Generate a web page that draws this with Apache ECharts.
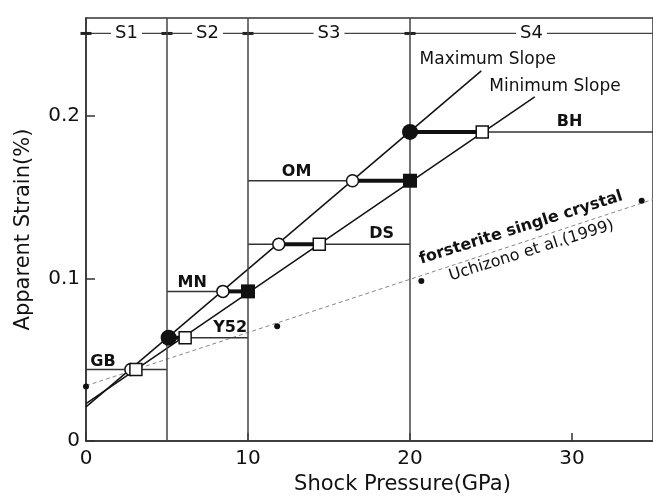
<!DOCTYPE html>
<html>
<head>
<meta charset="utf-8">
<script src="https://cdn.jsdelivr.net/npm/echarts@6/dist/echarts.min.js"></script>
<style>
html,body{margin:0;padding:0;background:#fff;}
#chart{width:653px;height:500px;}
</style>
</head>
<body>
<div id="chart"></div>
<script>
// ---- data (GPa, %) ----
const samples = ['GB', 'Y52', 'MN', 'DS', 'OM', 'BH'];
const sampleStrain = [0.044, 0.0635, 0.092, 0.121, 0.160, 0.190];
const rangeStart = [0, 5, 5, 10, 10, 20];
const rangeEnd = [5, 10, 10, 20, 20, 35];
const maxSlopeP = [2.77, 5.1, 8.45, 11.9, 16.45, 20];   // circles
const minSlopeP = [3.08, 6.12, 10, 14.4, 20, 24.46];    // squares
const circleFilled = [false, true, false, false, false, true];
const squareFilled = [false, false, true, false, true, false];
const labelP = [1.05, 8.9, 6.55, 18.25, 13.0, 29.85];
const labelStrain = [0.049, 0.0695, 0.097, 0.1275, 0.1655, 0.196];

const maxSlopeLine = [[0, 0.021], [24.4, 0.2275]];
const minSlopeLine = [[0, 0.023], [27.7, 0.2115]];
const uchizonoLine = [[0, 0.034], [35, 0.1485]];
const uchizonoPts = [[0, 0.0335], [11.8, 0.0706], [20.7, 0.0984], [34.3, 0.1477]];

const stages = ['S1', 'S2', 'S3', 'S4'];
const stageMid = [2.5, 7.5, 15, 27.5];
const stageBounds = [0, 5, 10, 20];
const stageRowStrain = 0.2505;
const xTicks = [0, 10, 20, 30];
const yTicks = ['0', '0.1', '0.2'];

const annotations = [
  {text: 'Maximum Slope', p: 24.8, s: 0.2343},
  {text: 'Minimum Slope', p: 28.95, s: 0.218}
];
const rotatedNotes = [
  {text: 'forsterite single crystal', p: 26.85, s: 0.131, bold: true},
  {text: 'Uchizono et al.(1999)', p: 27.5, s: 0.117, bold: false}
];

// ---- build ----
const FONT = 'DejaVu Sans';
const INK = '#111';
const series = [];

// stage row line with boundary verticals
series.push({
  type: 'line', silent: true, symbol: 'none', z: 2,
  data: [[0, stageRowStrain], [35, stageRowStrain]],
  lineStyle: {color: '#444', width: 1.2},
  markLine: {
    silent: true, symbol: 'none', label: {show: false},
    lineStyle: {color: '#444', width: 1.5, type: 'solid', opacity: 1},
    data: stageBounds.filter(v => v > 0).map(v => ({xAxis: v}))
  }
});
series.push({
  type: 'scatter', silent: true, z: 3, symbol: 'rect', symbolSize: [11, 3],
  itemStyle: {color: '#222', opacity: 1},
  data: stageBounds.map(v => [v, stageRowStrain])
});
series.push({
  type: 'scatter', silent: true, z: 4, symbolSize: 0,
  itemStyle: {opacity: 1},
  data: stages.map((s, i) => ({name: s, value: [stageMid[i], stageRowStrain]})),
  label: {show: true, position: 'inside', formatter: p => p.name,
    fontFamily: FONT, fontSize: 18, color: INK,
    backgroundColor: '#fff', padding: [0, 4]}
});

// slope lines
series.push({type: 'line', silent: true, symbol: 'none', z: 3, data: maxSlopeLine,
  lineStyle: {color: INK, width: 1.5}});
series.push({type: 'line', silent: true, symbol: 'none', z: 3, data: minSlopeLine,
  lineStyle: {color: INK, width: 1.5}});
// Uchizono line
series.push({type: 'line', silent: true, symbol: 'none', z: 2, data: uchizonoLine,
  lineStyle: {color: '#888', width: 1, type: [4, 3]}});
series.push({type: 'scatter', silent: true, z: 5, symbolSize: 6,
  itemStyle: {color: INK, opacity: 1}, data: uchizonoPts});

// sample ranges
samples.forEach((s, i) => {
  series.push({type: 'line', silent: true, symbol: 'none', z: 3,
    data: [[rangeStart[i], sampleStrain[i]], [rangeEnd[i], sampleStrain[i]]],
    lineStyle: {color: '#333', width: 1.5}});
  series.push({type: 'line', silent: true, symbol: 'none', z: 4,
    data: [[maxSlopeP[i], sampleStrain[i]], [minSlopeP[i], sampleStrain[i]]],
    lineStyle: {color: INK, width: 4}});
});

// symbols
series.push({type: 'scatter', silent: true, z: 6, symbol: 'circle', symbolSize: 12,
  itemStyle: {color: '#fff', borderColor: INK, borderWidth: 1.5, opacity: 1},
  data: maxSlopeP.map((p, i) => [p, sampleStrain[i]]).filter((d, i) => !circleFilled[i])});
series.push({type: 'scatter', silent: true, z: 6, symbol: 'circle', symbolSize: 16,
  itemStyle: {color: INK, opacity: 1},
  data: maxSlopeP.map((p, i) => [p, sampleStrain[i]]).filter((d, i) => circleFilled[i])});
series.push({type: 'scatter', silent: true, z: 6, symbol: 'rect', symbolSize: 12,
  itemStyle: {color: '#fff', borderColor: INK, borderWidth: 1.5, opacity: 1},
  data: minSlopeP.map((p, i) => [p, sampleStrain[i]]).filter((d, i) => !squareFilled[i])});
series.push({type: 'scatter', silent: true, z: 6, symbol: 'rect', symbolSize: 14,
  itemStyle: {color: INK, opacity: 1},
  data: minSlopeP.map((p, i) => [p, sampleStrain[i]]).filter((d, i) => squareFilled[i])});

// sample labels
series.push({type: 'scatter', silent: true, z: 7, symbolSize: 0, itemStyle: {opacity: 1},
  data: samples.map((s, i) => ({name: s, value: [labelP[i], labelStrain[i]]})),
  label: {show: true, position: 'inside', formatter: p => p.name,
    fontFamily: FONT, fontSize: 16, fontWeight: 'bold', color: INK}});

// slope annotations
series.push({type: 'scatter', silent: true, z: 7, symbolSize: 0, itemStyle: {opacity: 1},
  data: annotations.map(a => ({name: a.text, value: [a.p, a.s]})),
  label: {show: true, position: 'inside', formatter: p => p.name,
    fontFamily: FONT, fontSize: 17, color: INK}});
rotatedNotes.forEach(n => {
  series.push({type: 'scatter', silent: true, z: 7, symbolSize: 0, itemStyle: {opacity: 1},
    data: [{name: n.text, value: [n.p, n.s]}],
    label: {show: true, position: 'inside', formatter: p => p.name, rotate: 17.5,
      fontFamily: FONT, fontSize: 16, fontWeight: n.bold ? 'bold' : 'normal',
      color: INK}});
});

const chart = echarts.init(document.getElementById('chart'), null, {renderer: 'canvas'});
chart.setOption({
  animation: false,
  backgroundColor: '#fff',
  grid: {left: 86, right: -9, top: 18, bottom: 52, show: true,
    borderColor: '#333', borderWidth: 1.5, backgroundColor: 'transparent'},
  xAxis: {
    type: 'value', min: 0, max: 35, interval: 10,
    name: 'Shock Pressure(GPa)', nameLocation: 'middle', nameGap: 29,
    nameTextStyle: {fontFamily: FONT, fontSize: 21, color: INK, padding: [0, 0, 0, 66]},
    axisLine: {show: true, onZero: false, lineStyle: {color: '#333', width: 1.5}},
    axisTick: {show: true, inside: true, length: 8, lineStyle: {color: '#333', width: 1.5}},
    axisLabel: {margin: 8, fontFamily: FONT, fontSize: 20, color: INK,
      formatter: v => xTicks.indexOf(v) >= 0 ? String(v) : '', showMaxLabel: false},
    splitLine: {show: false}
  },
  yAxis: {
    type: 'value', min: 0, max: 0.26, interval: 0.1,
    name: 'Apparent Strain(%)', nameLocation: 'middle', nameGap: 52,
    nameTextStyle: {fontFamily: FONT, fontSize: 21, color: INK},
    axisLine: {show: true, onZero: false, lineStyle: {color: '#333', width: 1.5}},
    axisTick: {show: true, inside: true, length: 9, lineStyle: {color: '#333', width: 1.5}},
    axisLabel: {margin: 6, fontFamily: FONT, fontSize: 20, color: INK,
      formatter: v => {
        const k = Math.round(v / 0.1);
        return Math.abs(v - k * 0.1) < 1e-6 && yTicks[k] !== undefined ? yTicks[k] : '';
      }, showMaxLabel: false},
    splitLine: {show: false}
  },
  series: series
});
</script>
</body>
</html>
